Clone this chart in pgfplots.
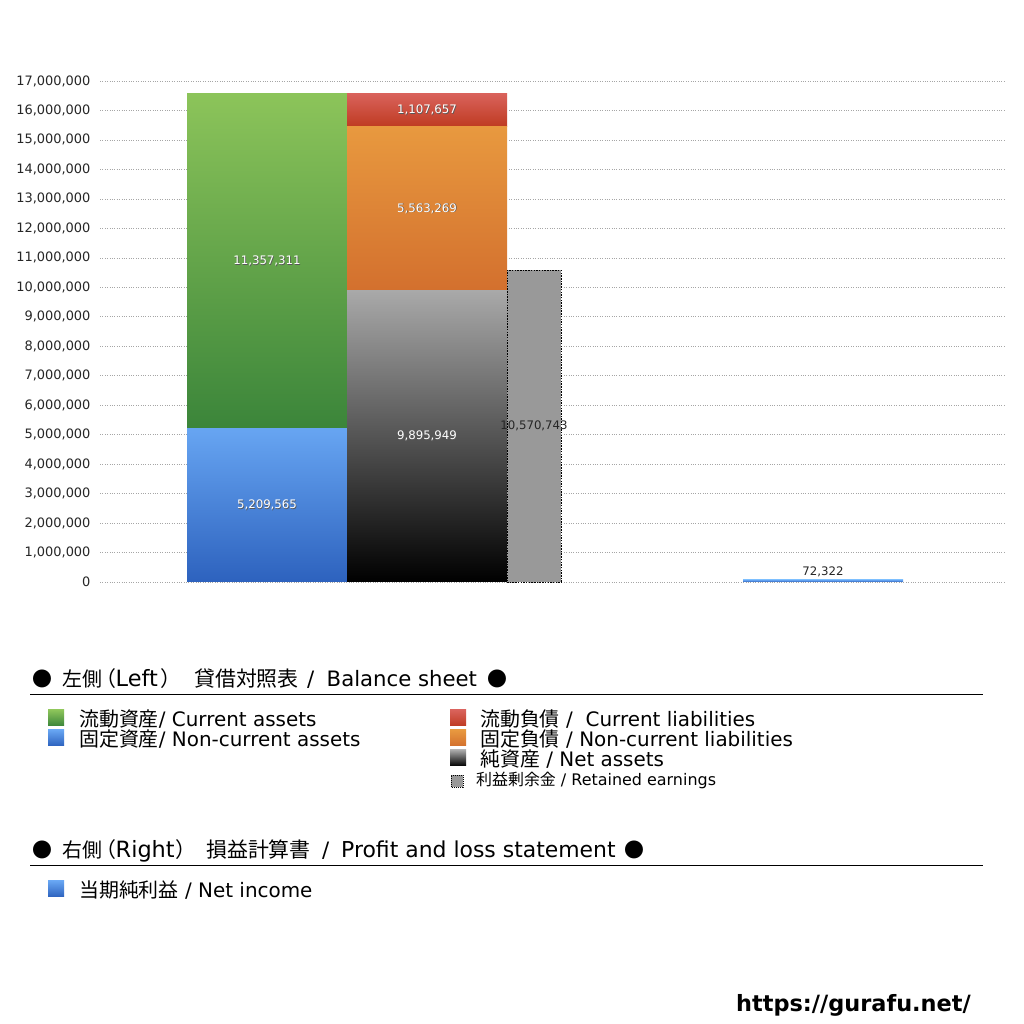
\documentclass[border=0pt]{standalone}
\usepackage{pgfplots}
\pgfplotsset{compat=1.18}
\usepackage{fontspec}
\setmainfont{DejaVu Sans}
\newfontfamily\jp{Noto Sans CJK JP}
\definecolor{gTop}{HTML}{8CC45A}
\definecolor{gBot}{HTML}{3B853A}
\definecolor{bTop}{HTML}{67A5F2}
\definecolor{bBot}{HTML}{2D62BE}
\definecolor{rTop}{HTML}{D9625B}
\definecolor{rBot}{HTML}{BF3B22}
\definecolor{oTop}{HTML}{E8993F}
\definecolor{oBot}{HTML}{D3702E}
\definecolor{kTop}{HTML}{A9A9A9}
\definecolor{kBot}{HTML}{000000}
\definecolor{reGray}{HTML}{999999}
\newcommand{\lblfont}{\fontsize{11.8}{11.8}\selectfont}
\newcommand{\fs}[1]{\fontsize{#1}{#1}\selectfont}
\pgfplotsset{
  base/.style={
    at={(100bp,442bp)}, anchor=south west, scale only axis,
    width=905bp, height=501bp,
    xmin=100, xmax=1005, ymin=0, ymax=17000000,
    clip=false,
  },
}
\tikzset{
  wl/.style={font=\lblfont, text=white},
  wls/.style={font=\lblfont, text=black!65, xshift=0.7bp, yshift=-0.7bp},
}
\begin{document}
\begin{tikzpicture}[x=1bp,y=1bp]
\useasboundingbox (0,0) rectangle (1024,1024);
\fill[white] (0,0) rectangle (1024,1024);
% axis with grid and ticks, left stack
\begin{axis}[base,
  ybar stacked, bar width=160,
  ytick={0,1000000,...,17000000},
  scaled y ticks=false,
  yticklabel style={font=\fs{13}, text=black!85, xshift=-6bp,
    /pgf/number format/fixed, /pgf/number format/1000 sep={,},
    /pgf/number format/assume math mode=true},
  xtick=\empty,
  major tick length=0pt,
  axis line style={draw=none},
  ymajorgrids, grid style={dotted, black!35, line width=0.6bp},
]
\addplot[draw=none, top color=bTop, bottom color=bBot] coordinates {(267,5209565)};
\addplot[draw=none, top color=gTop, bottom color=gBot] coordinates {(267,11357311)};
\end{axis}
% middle stack
\begin{axis}[base, hide axis, ybar stacked, bar width=160]
\addplot[draw=none, top color=kTop, bottom color=kBot] coordinates {(427,9895949)};
\addplot[draw=none, top color=oTop, bottom color=oBot] coordinates {(427,5563269)};
\addplot[draw=none, top color=rTop, bottom color=rBot] coordinates {(427,1107657)};
\end{axis}
% retained earnings and net income, and value labels
\begin{axis}[base, hide axis, ybar]
\addplot[fill=reGray, draw=black, dash pattern=on 1.5bp off 1.2bp, line width=0.7bp, bar width=54, bar shift=0pt] coordinates {(534,10570743)};
\addplot[draw=none, top color=bTop, bottom color=bBot, bar width=160, bar shift=0pt] coordinates {(823,72322)};
\node[font=\lblfont, text=black!85] at (axis cs:534,5285371) {10,570,743};
\node[font=\lblfont, text=black!85, anchor=south] at ([yshift=-0.5bp]axis cs:823,72322) {72,322};
\node[wls] at (axis cs:267,2604782) {5,209,565};
\node[wl] at (axis cs:267,2604782) {5,209,565};
\node[wls] at (axis cs:267,10888220) {11,357,311};
\node[wl] at (axis cs:267,10888220) {11,357,311};
\node[wls] at (axis cs:427,4947974) {9,895,949};
\node[wl] at (axis cs:427,4947974) {9,895,949};
\node[wls] at (axis cs:427,12677583) {5,563,269};
\node[wl] at (axis cs:427,12677583) {5,563,269};
\node[wls] at (axis cs:427,16013047) {1,107,657};
\node[wl] at (axis cs:427,16013047) {1,107,657};
\end{axis}
% headings
\begin{scope}[every node/.style={anchor=base west, inner sep=0}]
% heading 1 (baseline 337)
\node[font=\fs{20}\jp] at (32,337) {●};
\node[font=\fs{20}\jp] at (62,337) {左側};
\node[font=\fs{21}\jp, anchor=base east] at (117,337) {（};
\node[font=\fs{22.5}] at (115.5,337) {Left};
\node[font=\fs{21}\jp] at (160,337) {）};
\node[font=\fs{21}\jp] at (194,337) {貸借対照表};
\node[font=\fs{21.3}] at (307,337) {/};
\node[font=\fs{21.3}] at (326.5,337) {Balance sheet};
\node[font=\fs{20}\jp] at (487,337) {●};
% heading 2 (baseline 166)
\node[font=\fs{20}\jp] at (32,166) {●};
\node[font=\fs{20}\jp] at (62,166) {右側};
\node[font=\fs{21}\jp, anchor=base east] at (117,166) {（};
\node[font=\fs{22.5}] at (115.5,166) {Right};
\node[font=\fs{21}\jp] at (175,166) {）};
\node[font=\fs{21}\jp] at (206,166) {損益計算書};
\node[font=\fs{21.3}] at (322,166) {/};
\node[font=\fs{22}] at (341,166) {Profit and loss statement};
\node[font=\fs{20}\jp] at (624,166) {●};
\end{scope}
\draw[line width=0.8bp] (30,330) -- (983,330);
\draw[line width=0.8bp] (30,159) -- (983,159);
% legend entries
\begin{scope}[every node/.style={anchor=base west, font=\fs{20}, inner sep=0}]
\shade[top color=gTop, bottom color=gBot] (48,298) rectangle (64,314);
\node at (79,297) {{\jp 流動資産}/ Current assets};
\shade[top color=bTop, bottom color=bBot] (48,278) rectangle (64,294);
\node at (79,277) {{\jp 固定資産}/ Non-current assets};
\shade[top color=rTop, bottom color=rBot] (450,298) rectangle (466,314);
\node at (480,297) {{\jp 流動負債} /\ \ Current liabilities};
\shade[top color=oTop, bottom color=oBot] (450,278) rectangle (466,294);
\node at (480,277) {{\jp 固定負債} / Non-current liabilities};
\shade[top color=kTop, bottom color=kBot] (450,258) rectangle (466,274);
\node at (480,257) {{\jp 純資産} / Net assets};
\fill[reGray] (451,237) rectangle (463,249);
\draw[black, dash pattern=on 1bp off 1bp, line width=0.6bp] (451,237) rectangle (463,249);
\node[font=\fs{16}] at (476,238) {{\jp 利益剰余金} / Retained earnings};
\shade[top color=bTop, bottom color=bBot] (48,127) rectangle (64,143);
\node at (79,126) {{\jp 当期純利益} / Net income};
\end{scope}
\node[anchor=base east, font=\fs{22.5}\bfseries, inner sep=0] at (971,12) {https://gurafu.net/};
\end{tikzpicture}
\end{document}
